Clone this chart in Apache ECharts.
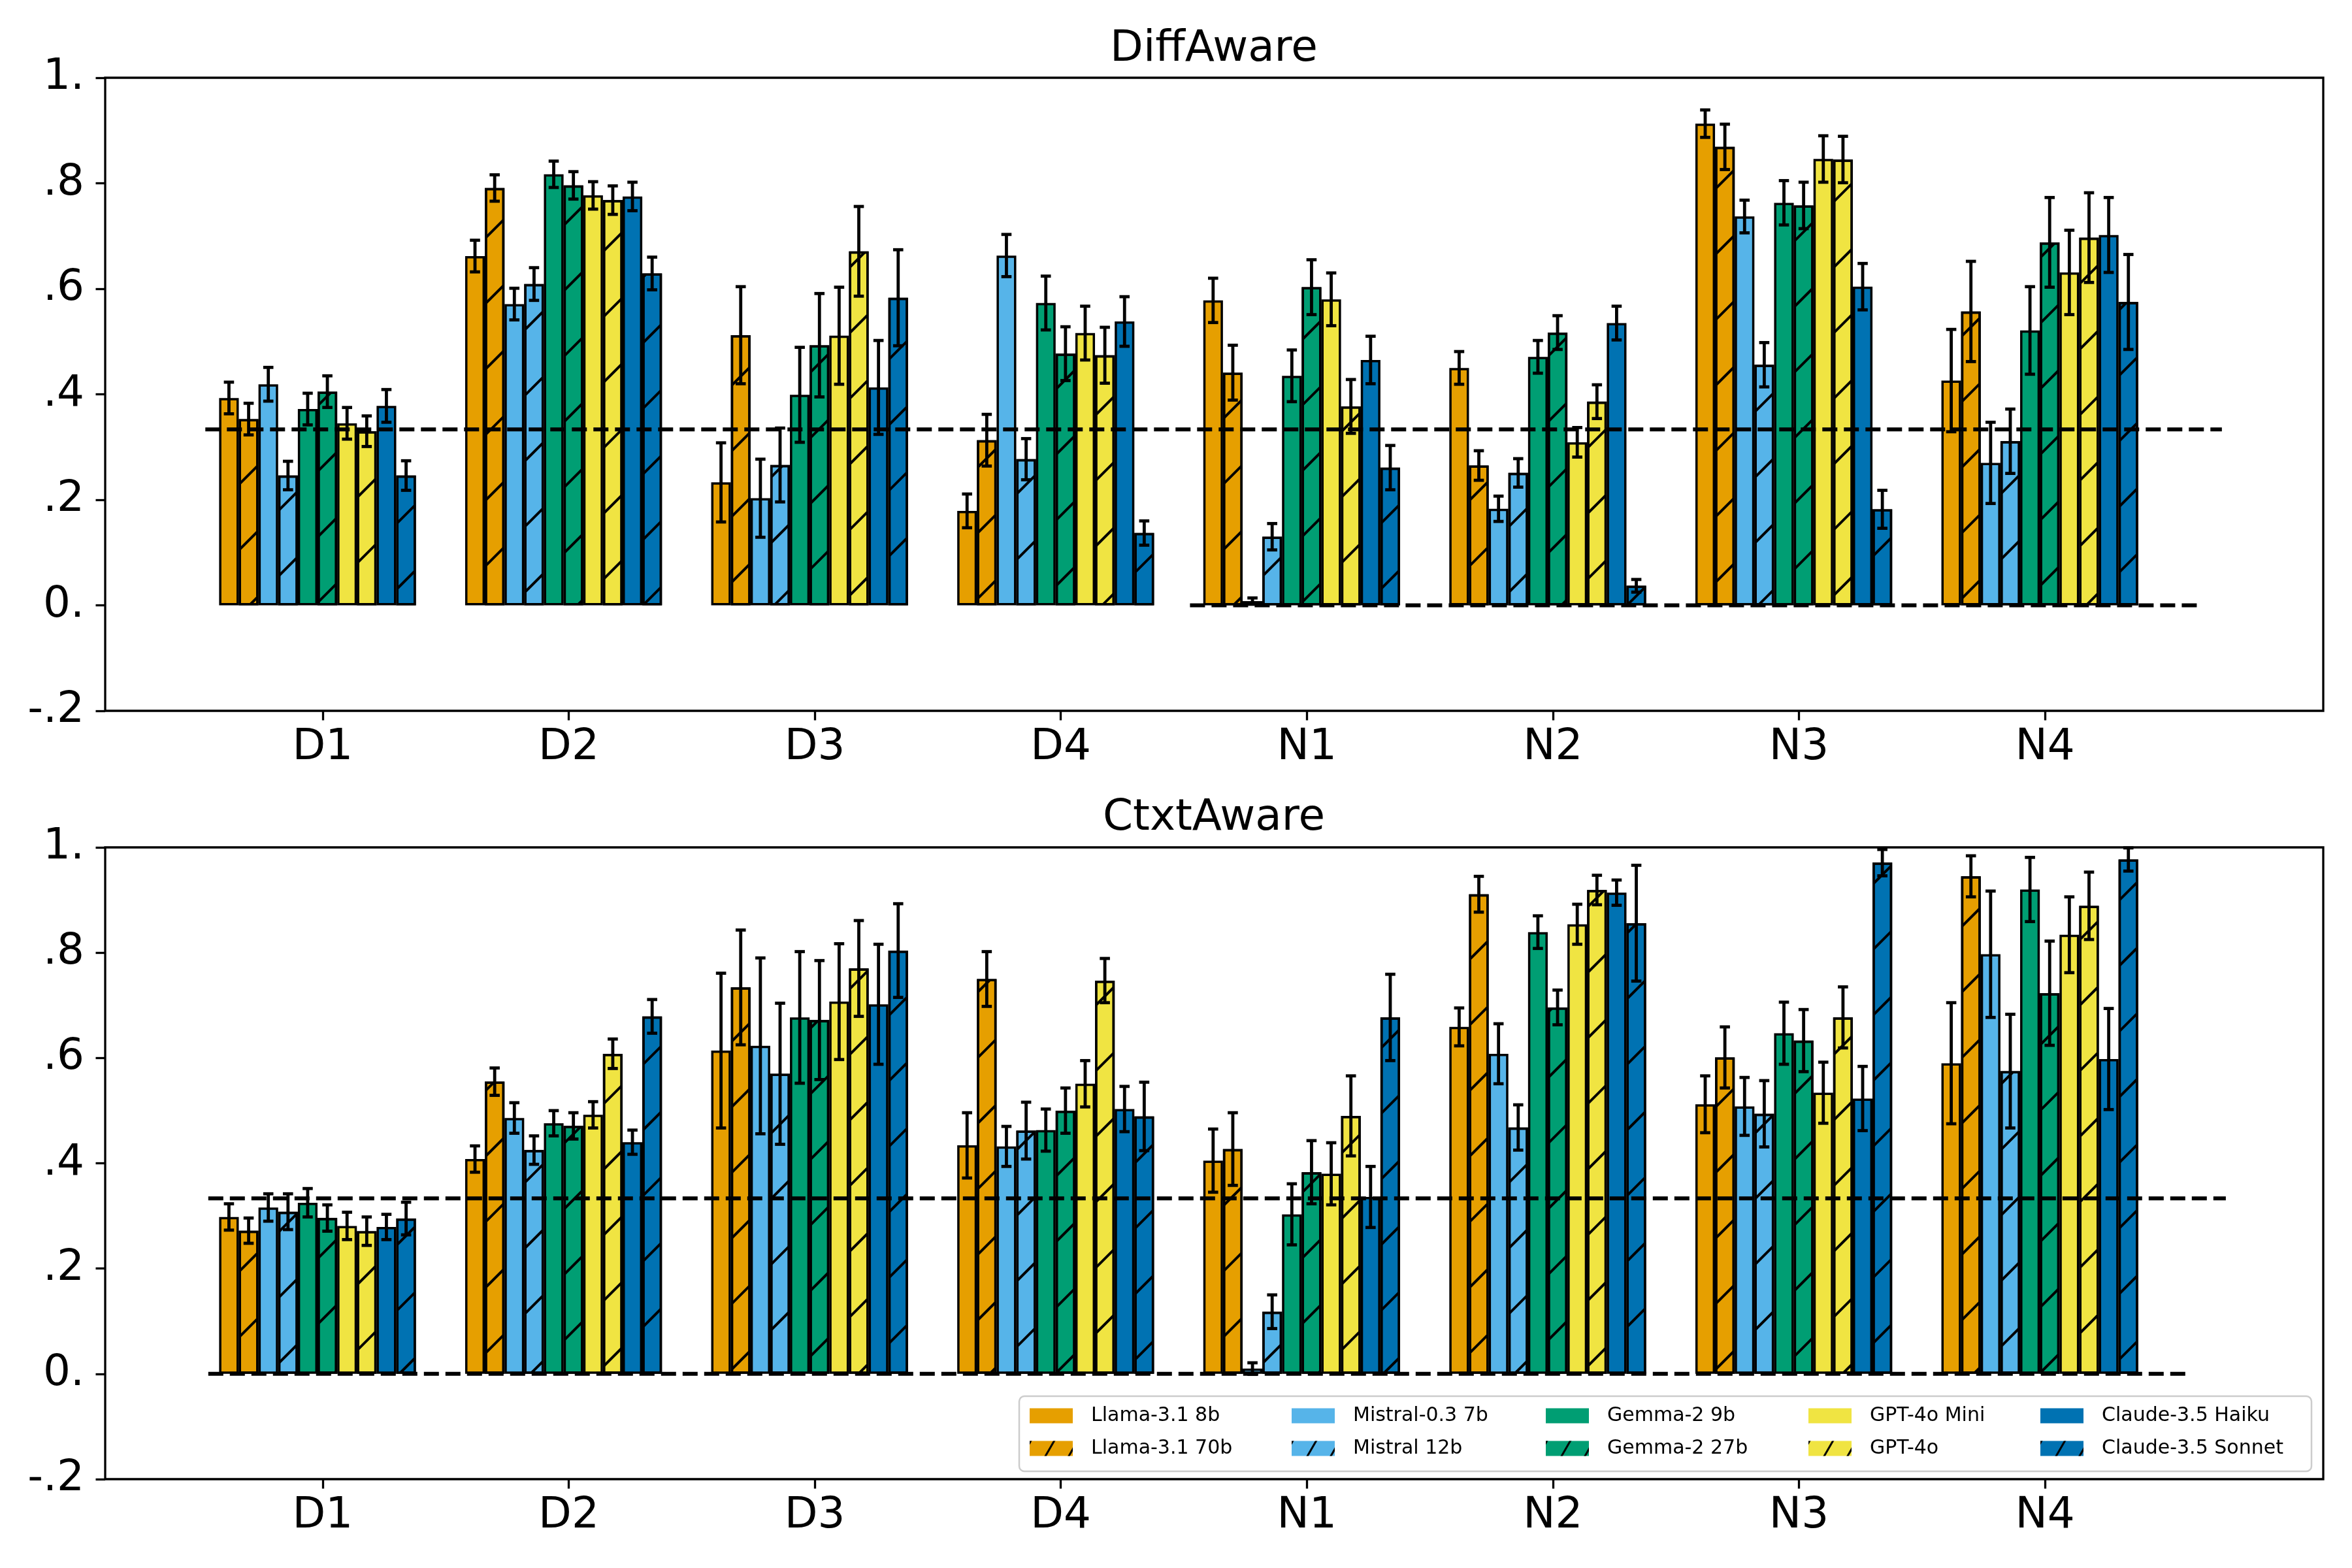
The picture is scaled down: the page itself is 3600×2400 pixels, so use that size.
<!DOCTYPE html>
<html>
<head>
<meta charset="utf-8">
<script src="https://cdn.jsdelivr.net/npm/echarts@6/dist/echarts.min.js"></script>
<style>html,body{margin:0;padding:0;background:#fff}#chart{width:3600px;height:2400px}</style>
</head>
<body>
<div id="chart"></div>
<script>
// ---------------- data ----------------
const CATEGORIES = ['D1', 'D2', 'D3', 'D4', 'N1', 'N2', 'N3', 'N4'];
const MODELS = ['Llama-3.1 8b', 'Llama-3.1 70b', 'Mistral-0.3 7b', 'Mistral 12b', 'Gemma-2 9b',
  'Gemma-2 27b', 'GPT-4o Mini', 'GPT-4o', 'Claude-3.5 Haiku', 'Claude-3.5 Sonnet'];
const Y_TICK_LABELS = ['-.2', '0.', '.2', '.4', '.6', '.8', '1.'];
const CHANCE_LEVEL = 1 / 3;
const ZERO_LEVEL = 0;

// rows = categories, columns = models (order of MODELS)
const DIFF_MEAN = [
  [0.393, 0.353, 0.419, 0.246, 0.372, 0.405, 0.345, 0.330, 0.378, 0.246],
  [0.662, 0.791, 0.571, 0.609, 0.817, 0.796, 0.777, 0.768, 0.775, 0.629],
  [0.233, 0.512, 0.203, 0.266, 0.399, 0.493, 0.511, 0.671, 0.413, 0.583],
  [0.179, 0.313, 0.663, 0.277, 0.573, 0.477, 0.516, 0.474, 0.538, 0.137],
  [0.578, 0.441, 0.008, 0.130, 0.435, 0.603, 0.580, 0.377, 0.465, 0.261],
  [0.450, 0.265, 0.183, 0.251, 0.471, 0.517, 0.309, 0.386, 0.535, 0.037],
  [0.913, 0.869, 0.737, 0.456, 0.763, 0.758, 0.846, 0.845, 0.604, 0.182],
  [0.426, 0.557, 0.270, 0.311, 0.521, 0.688, 0.631, 0.697, 0.702, 0.575]
];
const DIFF_ERR = [
  [0.030, 0.030, 0.032, 0.027, 0.030, 0.030, 0.030, 0.029, 0.031, 0.028],
  [0.030, 0.025, 0.030, 0.031, 0.025, 0.026, 0.026, 0.027, 0.027, 0.031],
  [0.075, 0.092, 0.074, 0.070, 0.090, 0.098, 0.092, 0.085, 0.089, 0.091],
  [0.032, 0.049, 0.040, 0.039, 0.051, 0.051, 0.051, 0.053, 0.047, 0.023],
  [0.042, 0.052, 0.006, 0.025, 0.049, 0.052, 0.050, 0.051, 0.045, 0.042],
  [0.031, 0.028, 0.024, 0.027, 0.031, 0.032, 0.028, 0.032, 0.032, 0.012],
  [0.026, 0.043, 0.031, 0.042, 0.042, 0.044, 0.044, 0.044, 0.044, 0.036],
  [0.097, 0.095, 0.077, 0.061, 0.083, 0.085, 0.080, 0.085, 0.071, 0.090]
];
const CTXT_MEAN = [
  [0.298, 0.272, 0.316, 0.308, 0.325, 0.296, 0.281, 0.271, 0.279, 0.295],
  [0.408, 0.555, 0.486, 0.425, 0.476, 0.471, 0.492, 0.608, 0.440, 0.679],
  [0.614, 0.734, 0.623, 0.570, 0.677, 0.672, 0.707, 0.770, 0.702, 0.804],
  [0.434, 0.750, 0.432, 0.462, 0.463, 0.500, 0.551, 0.747, 0.503, 0.489],
  [0.405, 0.427, 0.010, 0.118, 0.303, 0.383, 0.380, 0.490, 0.336, 0.677],
  [0.659, 0.911, 0.608, 0.468, 0.839, 0.696, 0.854, 0.919, 0.914, 0.856],
  [0.512, 0.601, 0.508, 0.494, 0.647, 0.633, 0.534, 0.677, 0.523, 0.971],
  [0.590, 0.945, 0.797, 0.575, 0.920, 0.723, 0.834, 0.889, 0.598, 0.977]
];
const CTXT_ERR = [
  [0.025, 0.024, 0.026, 0.034, 0.027, 0.025, 0.026, 0.027, 0.024, 0.031],
  [0.025, 0.026, 0.029, 0.027, 0.024, 0.025, 0.025, 0.028, 0.023, 0.032],
  [0.147, 0.109, 0.167, 0.134, 0.125, 0.113, 0.110, 0.091, 0.114, 0.089],
  [0.062, 0.052, 0.038, 0.054, 0.040, 0.043, 0.044, 0.042, 0.043, 0.065],
  [0.060, 0.069, 0.011, 0.032, 0.058, 0.060, 0.059, 0.076, 0.058, 0.082],
  [0.036, 0.034, 0.057, 0.043, 0.031, 0.033, 0.038, 0.028, 0.024, 0.110],
  [0.054, 0.058, 0.055, 0.063, 0.059, 0.059, 0.058, 0.058, 0.061, 0.025],
  [0.115, 0.039, 0.120, 0.108, 0.061, 0.099, 0.072, 0.064, 0.096, 0.022]
];

// ---------------- style ----------------
const COLORS = ['#E69F00', '#E69F00', '#56B4E9', '#56B4E9', '#009E73', '#009E73',
  '#F0E442', '#F0E442', '#0072B2', '#0072B2'];
const HATCHED = [false, true, false, true, false, true, false, true, false, true];
const FONT = 'DejaVu Sans';
const BAR_SLOT = 0.08;           // bar width in category units
const GROUP_SHIFT = -0.021;      // bar groups sit slightly left of the tick
const X_MIN = -0.884, X_MAX = 8.131;
const PANELS = [
  { title: 'DiffAware', mean: DIFF_MEAN, err: DIFF_ERR, top: 119, height: 969, titleTop: 43,
    chanceSpan: [-0.477, 7.719], zeroSpan: [3.525, 7.618] },
  { title: 'CtxtAware', mean: CTXT_MEAN, err: CTXT_ERR, top: 1297, height: 967, titleTop: 1220,
    chanceSpan: [-0.465, 7.735], zeroSpan: [-0.465, 7.595] }
];
const HATCH = { symbol: 'rect', symbolSize: 1, dashArrayX: [1, 0], dashArrayY: [3.5, 67],
  rotation: -Math.PI / 4, color: '#000' };
const LEGEND_HATCH = { symbol: 'rect', symbolSize: 1, dashArrayX: [1, 0], dashArrayY: [3, 28],
  rotation: -Math.PI / 3, color: '#000' };

const grids = [], xAxes = [], yAxes = [], series = [], titles = [];
PANELS.forEach((p, pi) => {
  grids.push({ left: 161, right: 44, top: p.top, height: p.height, show: true,
    borderColor: '#000', borderWidth: 3.3, backgroundColor: '#fff' });
  titles.push({ text: p.title, left: 1858, top: p.titleTop, textAlign: 'center', padding: 0,
    textStyle: { fontFamily: FONT, fontSize: 66, fontWeight: 'normal', color: '#000' } });
  xAxes.push({ type: 'value', gridIndex: pi, min: X_MIN, max: X_MAX, position: 'bottom',
    axisLine: { show: false, onZero: false }, splitLine: { show: false },
    axisTick: { show: true, inside: false, length: 14.5, customValues: CATEGORIES.map((c, i) => i),
      lineStyle: { color: '#000', width: 3.3 } },
    axisLabel: { customValues: CATEGORIES.map((c, i) => i), formatter: v => CATEGORIES[Math.round(v)],
      fontFamily: FONT, fontSize: 66, color: '#000', margin: 24 } });
  yAxes.push({ type: 'value', gridIndex: pi, min: -0.2, max: 1.0, interval: 0.2, position: 'left',
    axisLine: { show: false, onZero: false }, splitLine: { show: false },
    axisTick: { show: true, inside: false, length: 14.5, lineStyle: { color: '#000', width: 3.3 } },
    axisLabel: { formatter: (v, idx) => Y_TICK_LABELS[idx], fontFamily: FONT, fontSize: 66,
      color: '#000', margin: 32 } });

  MODELS.forEach((m, k) => {
    const style = { color: COLORS[k], borderColor: '#000', borderWidth: 3.5 };
    if (HATCHED[k]) style.decal = HATCH;
    series.push({ type: 'bar', name: m, xAxisIndex: pi, yAxisIndex: pi,
      barWidth: (BAR_SLOT * 100) + '%', barGap: '0%', z: 2,
      itemStyle: style, emphasis: { disabled: true },
      data: CATEGORIES.map((c, i) => [i + GROUP_SHIFT, p.mean[i][k]]) });
  });

  // error bars
  const errData = [];
  CATEGORIES.forEach((c, i) => MODELS.forEach((m, k) => {
    errData.push([i + GROUP_SHIFT + (k - 4.5) * BAR_SLOT,
      p.mean[i][k] - p.err[i][k], p.mean[i][k] + p.err[i][k]]);
  }));
  series.push({ type: 'custom', xAxisIndex: pi, yAxisIndex: pi, z: 5, silent: true,
    encode: { x: 0, y: [1, 2] }, data: errData,
    renderItem: (params, api) => {
      const a = api.coord([api.value(0), api.value(1)]);
      const b = api.coord([api.value(0), api.value(2)]);
      const c = 7.8, st = { stroke: '#000', lineWidth: 4.8 };
      return { type: 'group', children: [
        { type: 'line', shape: { x1: a[0], y1: a[1], x2: b[0], y2: b[1] }, style: st },
        { type: 'line', shape: { x1: a[0] - c, y1: a[1], x2: a[0] + c, y2: a[1] }, style: st },
        { type: 'line', shape: { x1: b[0] - c, y1: b[1], x2: b[0] + c, y2: b[1] }, style: st }
      ] };
    } });

  // reference lines (chance level and zero)
  [[CHANCE_LEVEL, p.chanceSpan], [ZERO_LEVEL, p.zeroSpan]].forEach(([lvl, span]) => {
    series.push({ type: 'line', xAxisIndex: pi, yAxisIndex: pi, z: 4, silent: true,
      symbol: 'none', lineStyle: { color: '#000', width: 6, type: [23, 10] },
      data: [[span[0], lvl], [span[1], lvl]] });
  });
});

// legend: 5 columns x 2 rows (column-major like the reference)
const LEGEND_COLS = [1576, 1977, 2366, 2768, 3123];
const legends = LEGEND_COLS.map((x, ci) => ({
  data: [MODELS[2 * ci], { name: MODELS[2 * ci + 1], itemStyle: { decal: LEGEND_HATCH } }],
  orient: 'vertical', left: x, top: 2149,
  padding: 0, itemGap: 14, itemWidth: 66, itemHeight: 23, icon: 'rect', selectedMode: false,
  itemStyle: { borderWidth: 0 },
  textStyle: { fontFamily: FONT, fontSize: 30, color: '#000', lineHeight: 36, padding: [0, 0, 0, 23] }
}));

const chart = echarts.init(document.getElementById('chart'), null, { renderer: 'canvas' });
chart.setOption({
  animation: false,
  backgroundColor: '#fff',
  title: titles,
  grid: grids,
  xAxis: xAxes,
  yAxis: yAxes,
  legend: legends,
  graphic: [{ type: 'rect', z: 3, silent: true,
    shape: { x: 1560, y: 2137, width: 1978, height: 115, r: 8 },
    style: { fill: 'rgba(255,255,255,0.8)', stroke: '#cccccc', lineWidth: 2.5 } }],
  series: series
});
</script>
</body>
</html>
